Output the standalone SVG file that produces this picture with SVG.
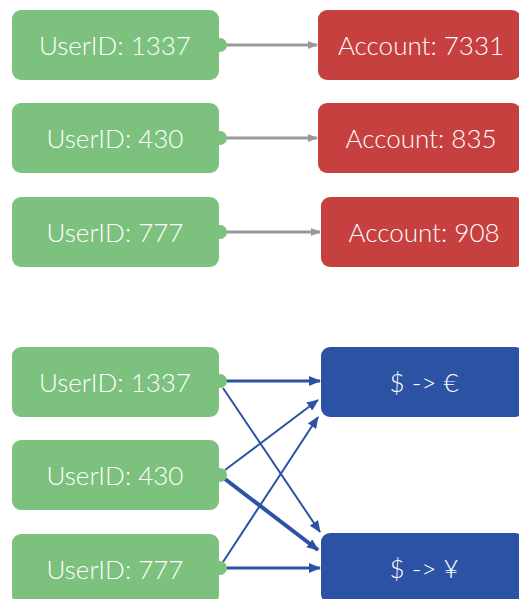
<svg xmlns="http://www.w3.org/2000/svg" width="519" height="599" viewBox="0 0 519 599">
<style>
.user rect,.user circle{fill:#7DC17E}
.acct rect{fill:#C64040}
.conv rect{fill:#2B52A3}
text{font-family:Lato,"Open Sans","Liberation Sans",sans-serif;font-weight:300;font-size:26px;fill:#fff;text-anchor:middle;dominant-baseline:central}
.g{stroke:#999;stroke-width:3;fill:none;marker-end:url(#ag)}
.b{stroke:#2B52A3;fill:none;marker-end:url(#ab)}
</style>
<defs>
<marker id="ag" markerWidth="10" markerHeight="8" refX="9" refY="4" orient="auto" markerUnits="userSpaceOnUse"><path d="M0,0 L10,4 L0,8 z" fill="#999"/></marker>
<marker id="ab" markerWidth="12" markerHeight="10" refX="11" refY="5" orient="auto" markerUnits="userSpaceOnUse"><path d="M0,0 L12,5 L0,10 z" fill="#2B52A3"/></marker>
</defs>
<rect width="519" height="599" fill="#fff"/>
<g id="connectors">
<line class="g" x1="224" y1="45" x2="317" y2="45"/>
<line class="g" x1="224" y1="138" x2="317" y2="138"/>
<line class="g" x1="224" y1="232" x2="320" y2="232"/>
<line class="b" stroke-width="3" x1="224" y1="381" x2="320" y2="381"/>
<line class="b" stroke-width="2" x1="223" y1="388" x2="320" y2="532"/>
<line class="b" stroke-width="2" x1="225" y1="470" x2="318" y2="400"/>
<line class="b" stroke-width="4" x1="225" y1="479" x2="318" y2="550"/>
<line class="b" stroke-width="2" x1="223" y1="562" x2="318" y2="417"/>
<line class="b" stroke-width="3" x1="224" y1="568" x2="320" y2="568"/>
</g>
<g id="u1" class="user"><rect x="12" y="10" width="207" height="70" rx="9"/><circle cx="220" cy="45" r="7"/><text x="115" y="45">UserID: 1337</text></g>
<g id="u2" class="user"><rect x="12" y="103" width="207" height="70" rx="9"/><circle cx="220" cy="138" r="7"/><text x="115" y="138">UserID: 430</text></g>
<g id="u3" class="user"><rect x="12" y="197" width="207" height="70" rx="9"/><circle cx="220" cy="232" r="7"/><text x="115" y="232">UserID: 777</text></g>
<g id="a1" class="acct"><rect x="318" y="10" width="203" height="70" rx="9"/><text x="421" y="45">Account: 7331</text></g>
<g id="a2" class="acct"><rect x="318" y="103" width="203" height="70" rx="9"/><text x="421" y="138">Account: 835</text></g>
<g id="a3" class="acct"><rect x="321" y="197" width="203" height="70" rx="9"/><text x="424" y="232">Account: 908</text></g>
<g id="u4" class="user"><rect x="12" y="347" width="207" height="70" rx="9"/><circle cx="220" cy="381" r="7"/><text x="115" y="382">UserID: 1337</text></g>
<g id="u5" class="user"><rect x="12" y="440" width="207" height="70" rx="9"/><circle cx="220" cy="475" r="7"/><text x="115" y="475">UserID: 430</text></g>
<g id="u6" class="user"><rect x="12" y="534" width="207" height="70" rx="9"/><circle cx="220" cy="568" r="7"/><text x="115" y="569">UserID: 777</text></g>
<g id="c1" class="conv"><rect x="321" y="347" width="203" height="70" rx="9"/><text x="424" y="382">$ -&gt; €</text></g>
<g id="c2" class="conv"><rect x="321" y="533" width="203" height="70" rx="9"/><text x="424" y="568">$ -&gt; ¥</text></g>
</svg>
